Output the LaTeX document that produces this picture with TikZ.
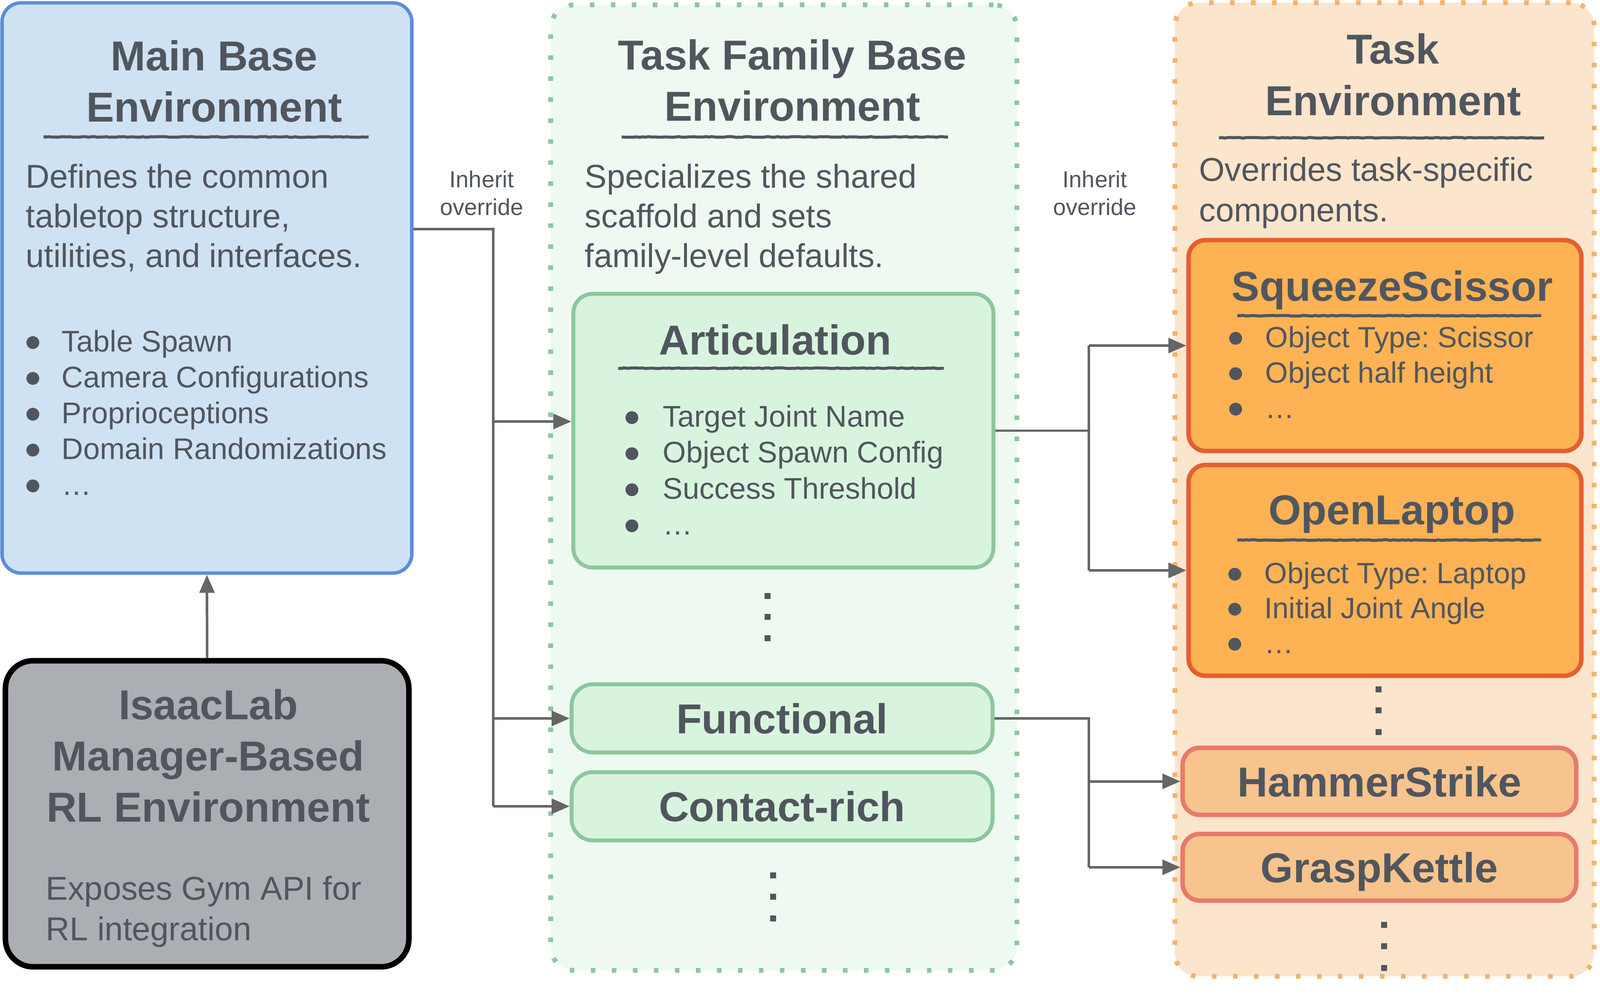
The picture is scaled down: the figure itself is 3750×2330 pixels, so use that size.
\documentclass[tikz,border=0pt]{standalone}
\usepackage{fontspec}
\setmainfont{Liberation Sans}
\frenchspacing
\usetikzlibrary{arrows.meta,decorations.pathmorphing}

\definecolor{ink}{HTML}{51565E}
\definecolor{wire}{HTML}{666666}
\definecolor{baseFill}{HTML}{CFE2F3}
\definecolor{baseLine}{HTML}{5A8DDE}
\definecolor{labFill}{HTML}{ABAEB3}
\definecolor{famBg}{HTML}{EEFAF1}
\definecolor{famLine}{HTML}{8DC6A0}
\definecolor{famFill}{HTML}{D9F4DE}
\definecolor{taskBg}{HTML}{FCE5CD}
\definecolor{taskLine}{HTML}{F6B26B}
\definecolor{taskFill}{HTML}{FDB254}
\definecolor{taskEdge}{HTML}{E4602F}
\definecolor{minorFill}{HTML}{F7C48D}
\definecolor{minorEdge}{HTML}{E67B6C}

\tikzset{
  box/.style={draw, rounded corners=0.45cm, inner sep=0pt},
  group/.style={draw, rounded corners=0.55cm, line width=3.2pt, dash pattern=on 3pt off 11pt},
  title/.style={text=ink, font=\fontsize{27.9}{34}\selectfont\bfseries, inner sep=0pt, anchor=base},
  tag/.style={title, anchor=center, text depth=0pt},
  desc/.style={text=ink, font=\fontsize{22}{26}\selectfont, inner sep=0pt, anchor=base west},
  item/.style={text=ink, font=\fontsize{19.9}{24}\selectfont, inner sep=0pt, anchor=base west},
  titem/.style={item, font=\fontsize{19.5}{23}\selectfont},
  note/.style={text=ink, font=\fontsize{15.4}{18}\selectfont, inner sep=0pt, anchor=base},
  rule/.style={ink, line width=2pt, decorate, decoration={random steps, segment length=2pt, amplitude=0.25pt}},
  wireline/.style={wire, line width=1.7pt},
  arr/.style={wireline, -{Triangle[length=12pt,width=10pt]}},
}

\begin{document}
\begin{tikzpicture}[x=0.01cm, y=-0.01cm]
\useasboundingbox (0,0) rectangle (3750,2330);

% group backgrounds
\node[group, draw=famLine, fill=famBg, minimum width=10.92cm, minimum height=22.62cm] (fam) at (1837,1143) {};
\node[group, draw=taskLine, fill=taskBg, minimum width=9.82cm, minimum height=22.81cm] (task) at (3245,1147.5) {};

% main base environment
\node[box, draw=baseLine, fill=baseFill, line width=2.3pt, minimum width=9.6cm, minimum height=13.36cm] (main) at (485,675) {};
\node[title] (mainT1) at (502,165) {Main Base};
\node[title] (mainT2) at (502,285) {Environment};
\draw[rule] (102,321) -- (864,321);
\foreach \t [count=\i] in {Defines the common, {tabletop structure,}, {utilities, and interfaces.}}
  \node[desc] (mainD\i) at ({60},{440+93*(\i-1)}) {\t};
\foreach \t [count=\i] in {Table Spawn, Camera Configurations, Proprioceptions, Domain Randomizations, …} {
  \fill[ink] ({77},{803+84*(\i-1)}) circle (0.15cm);
  \node[item] (mainI\i) at ({144},{824+84*(\i-1)}) {\t};
}

% isaaclab
\node[box, rounded corners=0.65cm, draw=black, fill=labFill, line width=3.7pt, minimum width=9.45cm, minimum height=7.17cm] (lab) at (485.5,1907.5) {};
\foreach \t [count=\i] in {IsaacLab, Manager-Based, RL Environment}
  \node[title] (labT\i) at ({488},{1686+120*(\i-1)}) {\t};
\node[desc] (labD1) at (107,2109) {Exposes Gym API for};
\node[desc] (labD2) at (107,2204) {RL integration};

% task family base
\node[title] (famT1) at (1857,163) {Task Family Base};
\node[title] (famT2) at (1857,283) {Environment};
\draw[rule] (1457,321) -- (2222,321);
\foreach \t [count=\i] in {Specializes the shared, scaffold and sets, family-level defaults.}
  \node[desc] (famD\i) at ({1370},{440+93*(\i-1)}) {\t};

\node[box, draw=famLine, fill=famFill, line width=2.6pt, minimum width=9.84cm, minimum height=6.41cm] (art) at (1836,1009.5) {};
\node[title] (artT) at (1817,831) {Articulation};
\draw[rule] (1449,863) -- (2212,863);
\foreach \t [count=\i] in {Target Joint Name, Object Spawn Config, Success Threshold, …} {
  \fill[ink] ({1481},{979+84.5*(\i-1)}) circle (0.15cm);
  \node[item] (artI\i) at ({1553},{1000+84.5*(\i-1)}) {\t};
}
\node[box, rounded corners=0.5cm, draw=famLine, fill=famFill, line width=2.6pt, minimum width=9.86cm, minimum height=1.6cm, tag] (fun) at (1833,1684) {Functional};
\node[box, rounded corners=0.5cm, draw=famLine, fill=famFill, line width=2.6pt, minimum width=9.86cm, minimum height=1.6cm, tag] (ctr) at (1833,1890) {Contact-rich};

% task environment
\node[title] (taskT1) at (3265,149) {Task};
\node[title] (taskT2) at (3265,270) {Environment};
\draw[rule] (2857,323) -- (3619,323);
\node[desc] (taskD1) at (2810,424) {Overrides task-specific};
\node[desc] (taskD2) at (2810,519) {components.};

\node[box, rounded corners=0.4cm, draw=taskEdge, fill=taskFill, line width=3pt, minimum width=9.2cm, minimum height=4.94cm] (sq) at (3246,810) {};
\node[title] (sqT) at (3263,705) {SqueezeScissor};
\draw[rule] (2900,740) -- (3612,740);
\foreach \t [count=\i] in {Object Type: Scissor, Object half height, …} {
  \fill[ink] ({2896},{793+83*(\i-1)}) circle (0.15cm);
  \node[titem] (sqI\i) at ({2965},{814+83*(\i-1)}) {\t};
}

\node[box, rounded corners=0.4cm, draw=taskEdge, fill=taskFill, line width=3pt, minimum width=9.2cm, minimum height=4.94cm] (ol) at (3246,1337) {};
\node[title] (olT) at (3262,1229) {OpenLaptop};
\draw[rule] (2900,1266) -- (3612,1266);
\foreach \t [count=\i] in {Object Type: Laptop, Initial Joint Angle, …} {
  \fill[ink] ({2894},{1346+82*(\i-1)}) circle (0.15cm);
  \node[titem] (olI\i) at ({2963},{1367+82*(\i-1)}) {\t};
}

\node[box, rounded corners=0.4cm, draw=minorEdge, fill=minorFill, line width=3pt, minimum width=9.22cm, minimum height=1.57cm, tag] (hs) at (3233,1831.5) {HammerStrike};
\node[box, rounded corners=0.4cm, draw=minorEdge, fill=minorFill, line width=3pt, minimum width=9.22cm, minimum height=1.56cm, tag] (gk) at (3233,2033) {GraspKettle};

% more entries
\foreach \x/\y in {1799/1397,1799/1446,1799/1496,1812/2052,1812/2102,1812/2153,
                   3231/1616,3231/1665,3231/1716,3244/2168,3244/2218,3244/2269}
  \fill[ink] (\x,\y) +(-7,-7) rectangle +(7,7);

% inherit labels
\node[note] (inhA) at (1129,439) {Inherit};
\node[note] (ovrA) at (1129,504) {override};
\node[note] (inhB) at (2566,439) {Inherit};
\node[note] (ovrB) at (2566,504) {override};

% connectors
\coordinate (jA) at (1156,537);
\coordinate (jB) at (2552,1004);
\draw[wireline] (main.east |- jA) -- (jA) -- (jA |- ctr.west);
\draw[arr] (jA |- 0,988) -- (art.west |- 0,988);
\draw[arr] (jA |- fun.west) -- (fun.west);
\draw[arr] (jA |- ctr.west) -- (ctr.west);
\draw[wireline] (art.east) -- (art.east -| jB);
\draw[wireline] (jB |- sq.west) -- (jB |- ol.west);
\draw[arr] (jB |- sq.west) -- (sq.west);
\draw[arr] (jB |- ol.west) -- (ol.west);
\draw[wireline] (fun.east) -- (fun.east -| jB) -- (jB |- gk.west);
\draw[arr] (jB |- hs.west) -- (hs.west);
\draw[arr] (jB |- gk.west) -- (gk.west);
\draw[arr] (lab.north) -- (main.south);
\end{tikzpicture}
\end{document}
